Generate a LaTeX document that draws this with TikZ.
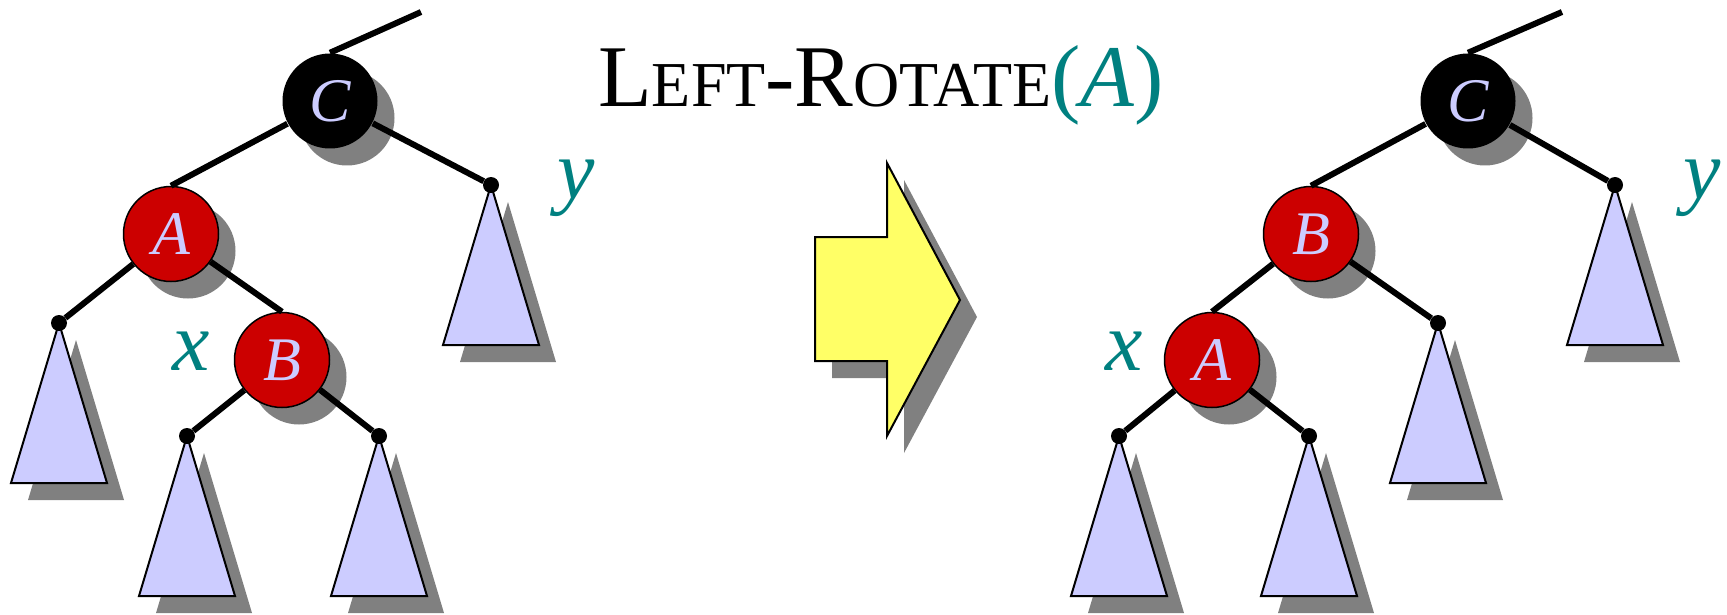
\documentclass[tikz,border=0pt]{standalone}
\usepackage{fontspec}
\setmainfont{Liberation Serif}
\usetikzlibrary{calc}
\usetikzlibrary{shadows}
\definecolor{rbred}{RGB}{204,0,0}
\definecolor{lav}{RGB}{204,204,255}
\definecolor{lbl}{RGB}{0,128,128}
\definecolor{yel}{RGB}{255,255,102}
\definecolor{shade}{RGB}{128,128,128}
\newcommand{\tbig}{\fontsize{88}{88}\selectfont}
\newcommand{\tsmall}{\fontsize{64}{64}\selectfont}

\begin{document}
\begin{tikzpicture}[x=1pt,y=-1pt,
  shade/.style={drop shadow={shadow xshift=17pt,shadow yshift=-17pt,fill=shade,draw=none,opacity=1}},
  rb/.style={circle,minimum size=95pt,inner sep=0pt,line width=1.5pt,text=lav,font=\fontsize{62}{62}\selectfont\itshape,shade},
  rednode/.style={rb,draw=black,fill=rbred},
  blacknode/.style={rb,fill=black},
  leaf/.style={circle,fill=black,minimum size=16pt,inner sep=0pt},
  subtree/.style={draw=black,line width=2pt,fill=lav,shade},
  link/.style={line width=6pt},
  tag/.style={text=lbl,inner sep=0pt,font=\fontsize{84}{84}\selectfont\itshape}]
\useasboundingbox (0,0) rectangle (1727,615);

% title
\node (title) at (881,107) [anchor=base,inner sep=0pt]
  {\tbig L\tsmall EFT\tbig-R\tsmall OTATE\tbig\color{lbl}(\textit{A})};

% leaf positions
\coordinate (p1y) at (491,185);
\coordinate (p1al) at (59,323);
\coordinate (p1bl) at (187,436);
\coordinate (p1br) at (379,436);
\coordinate (p2y) at (1615,185);
\coordinate (p2br) at (1438,323);
\coordinate (p2al) at (1119,436);
\coordinate (p2ar) at (1309,436);

% subtrees
\foreach \p in {p1y,p1al,p1bl,p1br,p2y,p2br,p2al,p2ar}
  \draw[subtree] (\p) -- ++(48,160) -- ++(-96,0) -- cycle;

% before
\node[blacknode] (c1) at (330,101) {C};
\node[rednode] (a1) at (171,234) {A};
\node[rednode] (b1) at (282,360) {B};
\coordinate (t1) at (421,12);
\node[leaf] (y1) at (p1y) {};
\node[leaf] (al1) at (p1al) {};
\node[leaf] (bl1) at (p1bl) {};
\node[leaf] (br1) at (p1br) {};
\node[tag] (ylab1) at (576,188) {y};
\node[tag] (xlab1) at (191,351) {x};

\draw[link] (c1.north) -- (t1);
\draw[link] (c1) -- (a1.north);
\draw[link] (c1) -- (y1);
\draw[link] (a1) -- (al1);
\draw[link] (a1) -- (b1.north);
\draw[link] (b1) -- (bl1);
\draw[link] (b1) -- (br1);

% arrow
\filldraw[fill=yel,draw=black,line width=2pt,shade]
  (815,237) -- (887,237) -- (887,163) -- (960,300) -- (887,436) -- (887,361) -- (815,361) -- cycle;

% after
\node[blacknode] (c2) at (1468,101) {C};
\node[rednode] (b2) at (1311,234) {B};
\node[rednode] (a2) at (1212,360) {A};
\coordinate (t2) at (1562,12);
\node[leaf] (y2) at (p2y) {};
\node[leaf] (br2) at (p2br) {};
\node[leaf] (al2) at (p2al) {};
\node[leaf] (ar2) at (p2ar) {};
\node[tag] (ylab2) at (1702,188) {y};
\node[tag] (xlab2) at (1124,351) {x};

\draw[link] (c2.north) -- (t2);
\draw[link] (c2) -- (b2.north);
\draw[link] (c2) -- (y2);
\draw[link] (b2) -- (a2.north);
\draw[link] (b2) -- (br2);
\draw[link] (a2) -- (al2);
\draw[link] (a2) -- (ar2);
\end{tikzpicture}
\end{document}
